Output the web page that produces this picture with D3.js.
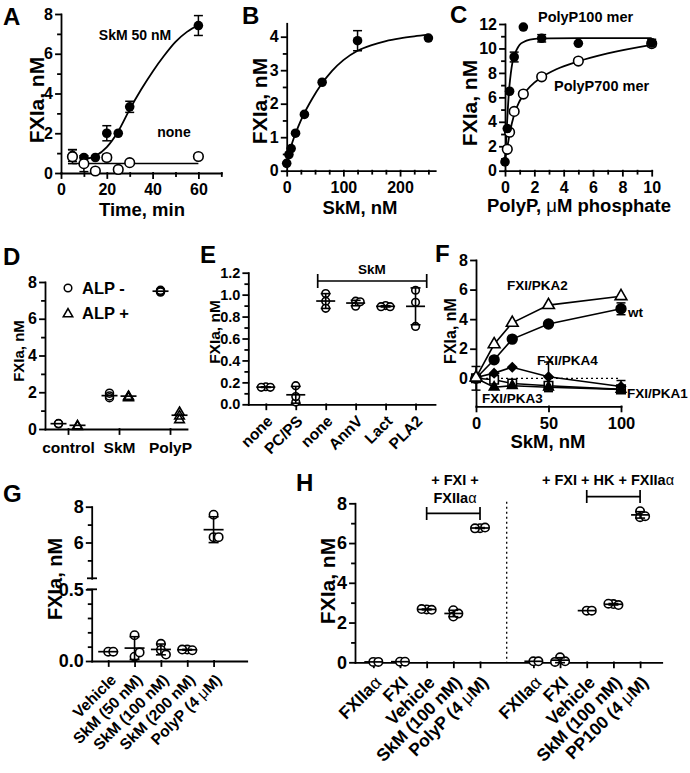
<!DOCTYPE html>
<html><head><meta charset="utf-8">
<script src="https://cdn.jsdelivr.net/npm/d3@7"></script>
<style>
body{margin:0;background:#fff;}
svg text{font-family:"Liberation Sans",Arial,Helvetica,sans-serif;font-weight:bold;fill:#000;}
</style></head><body>
<script>
// ---------------- DATA ----------------
// Panel A
const aTime = [5,10,15,20,25,30,60];
const aSkM = [0.88,0.78,0.78,2.0,2.0,3.33,7.42];
const aSkMErr = [0.3,0,0,0.38,0,0.28,0.5];
const aNone = [0.82,0.47,0.1,0.78,0.18,0.52,0.83];
const aNoneErr = [0.35,0.4,0,0.15,0,0,0];
const aFitTime = [10,15,20,25,30,35,40,45,50,55,60];
const aFitSkM = [0.7,0.85,1.3,2.1,3.2,4.2,5.1,5.9,6.6,7.1,7.45];
const aFitNoneTime = [5,60];
const aFitNone = [0.48,0.48];
// Panel B
const bSkM = [0,3.9,7.8,15.6,31.25,62.5,125,250];
const bFXIa = [0.22,0.48,0.66,1.12,1.68,2.64,3.88,3.96];
const bErr = [0,0,0,0,0,0,0.3,0];
const bFitSkM = [0,5,10,20,30,45,60,80,100,125,150,175,200,225,250];
const bFit = [0.2,0.55,0.85,1.3,1.68,2.15,2.55,2.98,3.3,3.58,3.75,3.87,3.95,4.01,4.06];
// Panel C
const cP100X = [0,0.156,0.3125,0.625,1.25,2.5,5,10];
const cP100 = [0.72,3.45,6.5,9.3,11.75,10.83,10.42,10.45];
const cP100Err = [0,0,0,0.4,0,0.3,0,0.3];
const cP700X = [0.156,0.3125,0.625,1.25,2.5,5,10];
const cP700 = [1.75,3.15,4.85,6.27,7.68,8.97,10.4];
const cFit100X = [0,0.1,0.2,0.3,0.4,0.5,0.6,0.8,1.0,1.3,1.7,2.2,3,5,10];
const cFit100 = [0.7,3.0,5.2,6.9,8.0,8.8,9.3,9.9,10.3,10.55,10.72,10.8,10.83,10.84,10.84];
const cFit700X = [0,0.156,0.3125,0.625,1,1.5,2,2.5,3.5,5,7,10];
const cFit700 = [1.0,1.9,3.0,4.6,5.7,6.6,7.2,7.65,8.3,8.95,9.6,10.3];
// Panel D
const dCats = ['control','SkM','PolyP'];
const dAlpMinus = [[0.3,0.28],[1.95,1.7,1.8],[7.55,7.45,7.5]];
const dAlpPlus = [[0.22,0.18],[1.8,1.75,1.82],[0.95,0.55,0.75]];
// Panel E
const eCats = ['none','PC/PS','none','AnnV','Lact','PLA2'];
const eVals = [[0.16,0.155,0.155],[0.17,0.02,0.07],[1.01,0.94,0.875],[0.94,0.895,0.935],[0.9,0.89,0.89],[1.04,0.93,0.71]];
// Panel F
const fSkM = [0,12.5,25,50,100];
const fWt = [0,1.25,2.65,3.67,4.7];
const fWtErr = [0.8,0,0,0,0.4];
const fPKA2 = [0.05,2.3,3.75,4.95,5.55];
const fPKA4 = [0.05,0.35,0.75,0.1,-0.55];
const fPKA4Err = [0,0,0,1.0,0.4];
const fPKA3 = [0,-0.6,-0.5,-0.6,-0.75];
const fPKA1 = [0,-0.1,-0.35,-0.5,-0.75];
// Panel G
const gCats = ['Vehicle','SkM (50 nM)','SkM (100 nM)','SkM (200 nM)','PolyP (4 μM)'];
const gVals = [[0.065,0.065],[0.18,0.03,0.06],[0.12,0.077,0.045],[0.08,0.075,0.08],[7.55,6.3,6.3]];
// Panel H
const hCatsLeft = ['FXIIaα','FXI','Vehicle','SkM (100 nM)','PolyP (4 μM)'];
const hCatsRight = ['FXIIaα','FXI','Vehicle','SkM (100 nM)','PP100 (4 μM)'];
const hLeft = [[0.02,0.02],[0.03,0.03],[2.66,2.64,2.68],[2.62,2.3,2.45],[6.75,6.78,6.74]];
const hRight = [[0.05,0.05],[0.25,0.05,0.02],[2.6,2.6],[2.93,2.88,2.95],[7.6,7.3,7.35]];

// ---------------- HELPERS ----------------
const FONT='"Liberation Sans", Arial, Helvetica, sans-serif';
const LW=1.8;
const svg=d3.select('body').append('svg').attr('width',690).attr('height',773);

function mkAxis(orient, scale, pos, major, minor, fmt, fs, pad){
  const gen=()=>orient==='left'?d3.axisLeft(scale):d3.axisBottom(scale);
  const g=svg.append('g').attr('transform',orient==='left'?`translate(${pos},0)`:`translate(0,${pos})`);
  g.call(gen().tickValues(major).tickSize(5).tickSizeOuter(0).tickPadding(pad).tickFormat(fmt));
  if(minor&&minor.length){
    const gm=g.append('g').call(gen().tickValues(minor).tickSize(3).tickSizeOuter(0).tickFormat(''));
    gm.select('.domain').remove();
  }
  g.selectAll('path,line').attr('stroke','#000').attr('stroke-width',LW).attr('stroke-linecap','square');
  g.selectAll('text').attr('font-size',fs).attr('font-weight','bold').attr('font-family',FONT).attr('fill','#000');
  return g;
}
function rich(sel,str){
  str.split(/([μα])/).forEach(p=>{ if(!p) return; const t=sel.append('tspan').text(p); if(/[μα]/.test(p)) t.attr('font-weight','normal'); });
  return sel;
}
function txt(x,y,s,fs,anchor){ return rich(svg.append('text').attr('x',x).attr('y',y).attr('font-size',fs).attr('text-anchor',anchor||'start'),s); }
function vtxt(x,y,s,fs){ return rich(svg.append('text').attr('transform',`translate(${x},${y}) rotate(-90)`).attr('font-size',fs).attr('text-anchor','middle'),s); }
function dtxt(x,y,s,fs){ return rich(svg.append('text').attr('transform',`translate(${x},${y}) rotate(-45)`).attr('font-size',fs).attr('text-anchor','end').attr('dy','0.35em'),s); }
function seg(x1,y1,x2,y2,w,dash){ const l=svg.append('line').attr('x1',x1).attr('y1',y1).attr('x2',x2).attr('y2',y2).attr('stroke','#000').attr('stroke-width',w||LW); if(dash) l.attr('stroke-dasharray',dash); return l; }
function errBar(x,yS,v,e,cap){ if(!e) return; seg(x,yS(v-e),x,yS(v+e),1.5); seg(x-cap/2,yS(v+e),x+cap/2,yS(v+e),1.5); seg(x-cap/2,yS(v-e),x+cap/2,yS(v-e),1.5); }
function mark(x,y,type,size,fill){
  svg.append('path').attr('d',d3.symbol(type,size)()).attr('transform',`translate(${x},${y})`)
    .attr('fill',fill).attr('stroke','#000').attr('stroke-width',1.6);
}
function curve(xs,ys,xS,yS){
  svg.append('path').datum(xs.map((x,i)=>[x,ys[i]])).attr('fill','none').attr('stroke','#000').attr('stroke-width',1.8)
    .attr('d',d3.line().x(d=>xS(d[0])).y(d=>yS(d[1])).curve(d3.curveMonotoneX));
}
function polyline(xs,ys,xS,yS){
  svg.append('path').datum(xs.map((x,i)=>[x,ys[i]])).attr('fill','none').attr('stroke','#000').attr('stroke-width',1.6)
    .attr('d',d3.line().x(d=>xS(d[0])).y(d=>yS(d[1])));
}
function dotColumn(xc,yS,vals,r,meanW,capW){
  const placed=[]; const step=r*1.2;
  const offs=[0,step,-step,2*step,-2*step,3*step,-3*step];
  vals.forEach(v=>{ const y=yS(v); let o=offs.find(o=>placed.every(p=>Math.hypot(p.x-o,p.y-y)>=r*1.1)); if(o===undefined)o=0; placed.push({x:o,y}); });
  placed.forEach(p=>svg.append('circle').attr('cx',xc+p.x).attr('cy',p.y).attr('r',r).attr('fill','#fff').attr('stroke','#000').attr('stroke-width',1.6));
  const m=d3.mean(vals), sd=d3.deviation(vals)||0;
  seg(xc-meanW/2,yS(m),xc+meanW/2,yS(m),1.7);
  if(sd>0){ seg(xc,yS(m-sd),xc,yS(m+sd),1.6); seg(xc-capW/2,yS(m+sd),xc+capW/2,yS(m+sd),1.6); seg(xc-capW/2,yS(m-sd),xc+capW/2,yS(m-sd),1.6); }
}
const LET=24;

// ---------------- PANEL A ----------------
{
const xS=d3.scaleLinear().domain([0,70]).range([61,221.3]);
const yS=d3.scaleLinear().domain([0,8]).range([173,14]);
mkAxis('bottom',xS,173,[0,20,40,60],[10,30,50,70],d3.format('d'),16,6);
mkAxis('left',yS,61,[0,2,4,6,8],[1,3,5,7],d3.format('d'),16,3);
curve(aFitTime,aFitSkM,xS,yS);
polyline(aFitNoneTime,aFitNone,xS,yS);
aTime.forEach((t,i)=>{ errBar(xS(t),yS,aSkM[i],aSkMErr[i],9); errBar(xS(t),yS,aNone[i],aNoneErr[i],9); });
aTime.forEach((t,i)=>svg.append('circle').attr('cx',xS(t)).attr('cy',yS(aSkM[i])).attr('r',4.8).attr('fill','#000'));
aTime.forEach((t,i)=>svg.append('circle').attr('cx',xS(t)).attr('cy',yS(aNone[i])).attr('r',4.8).attr('fill','#fff').attr('stroke','#000').attr('stroke-width',1.6));
txt(3,25,'A',LET);
txt(135,40,'SkM 50 nM',14,'middle');
txt(174,137,'none',14,'middle');
txt(142,216,'Time, min',18.5,'middle');
vtxt(44,100,'FXIa, nM',21);
}
// ---------------- PANEL B ----------------
{
const xS=d3.scaleLinear().domain([0,262]).range([286.7,435.2]);
const yS=d3.scaleLinear().domain([0,4.4]).range([170.7,23.3]);
mkAxis('bottom',xS,170.7,[0,100,200],[25,50,75,125,150,175,225,250],d3.format('d'),16,6);
mkAxis('left',yS,286.7,[0,1,2,3,4],[0.5,1.5,2.5,3.5],d3.format('d'),16,3);
curve(bFitSkM,bFit,xS,yS);
bSkM.forEach((s,i)=>errBar(xS(s),yS,bFXIa[i],bErr[i],9));
bSkM.forEach((s,i)=>svg.append('circle').attr('cx',xS(s)).attr('cy',yS(bFXIa[i])).attr('r',4.8).attr('fill','#000'));
txt(242,24,'B',LET);
txt(360,214,'SkM, nM',18.5,'middle');
vtxt(267,101,'FXIa, nM',21);
}
// ---------------- PANEL C ----------------
{
const xS=d3.scaleLinear().domain([0,10]).range([505,651.7]);
const yS=d3.scaleLinear().domain([0,12]).range([170.7,24]);
mkAxis('bottom',xS,170.7,[0,2,4,6,8,10],[1,3,5,7,9],d3.format('d'),16,6);
mkAxis('left',yS,505,[0,2,4,6,8,10,12],[1,3,5,7,9,11],d3.format('d'),16,3);
curve(cFit700X,cFit700,xS,yS);
curve(cFit100X,cFit100,xS,yS);
cP100X.forEach((x,i)=>errBar(xS(x),yS,cP100[i],cP100Err[i],9));
cP700X.forEach((x,i)=>svg.append('circle').attr('cx',xS(x)).attr('cy',yS(cP700[i])).attr('r',4.8).attr('fill','#fff').attr('stroke','#000').attr('stroke-width',1.6));
cP100X.forEach((x,i)=>svg.append('circle').attr('cx',xS(x)).attr('cy',yS(cP100[i])).attr('r',4.8).attr('fill','#000'));
txt(450,23,'C',LET);
txt(538,22,'PolyP100 mer',14.5);
txt(554,91,'PolyP700 mer',14.5);
txt(579,212,'PolyP, μM phosphate',18.5,'middle');
vtxt(477,103,'FXIa, nM',21);
}
// ---------------- PANEL D ----------------
{
const xS=d3.scaleLinear().domain([-0.451,2.333]).range([45,187]);
const yS=d3.scaleLinear().domain([0,8]).range([429,282]);
mkAxis('bottom',xS,429,[0,1,2],null,i=>dCats[i],15.5,8);
mkAxis('left',yS,45,[0,2,4,6,8],[1,3,5,7],d3.format('d'),16,3);
dCats.forEach((c,i)=>{
  const xm=xS(i)-9.5, xp=xS(i)+9.5;
  dAlpMinus[i].forEach(v=>svg.append('circle').attr('cx',xm).attr('cy',yS(v)).attr('r',4).attr('fill','none').attr('stroke','#000').attr('stroke-width',1.5));
  dAlpPlus[i].forEach(v=>mark(xp,yS(v)+1,d3.symbolTriangle,40,'none'));
  const m1=d3.mean(dAlpMinus[i]), m2=d3.mean(dAlpPlus[i]);
  seg(xm-8,yS(m1),xm+8,yS(m1),1.7); seg(xp-8,yS(m2),xp+8,yS(m2),1.7);
});
svg.append('circle').attr('cx',68).attr('cy',288).attr('r',3.8).attr('fill','none').attr('stroke','#000').attr('stroke-width',1.5);
txt(82,294,'ALP -',16.5);
mark(68,314,d3.symbolTriangle,38,'none');
txt(82,319,'ALP +',16.5);
txt(3,265,'D',LET);
vtxt(24,351,'FXIa, nM',15);
}
// ---------------- PANEL E ----------------
{
const xS=d3.scaleLinear().domain([-0.585,5.65]).range([248.3,435]);
const yS=d3.scaleLinear().domain([0,1.2]).range([404.3,272.7]);
mkAxis('bottom',xS,404.3,d3.range(eCats.length),null,'',15,6);
mkAxis('left',yS,248.3,[0,0.2,0.4,0.6,0.8,1.0,1.2],[0.1,0.3,0.5,0.7,0.9,1.1],d3.format('.1f'),14.5,3);
eCats.forEach((c,i)=>{ dotColumn(xS(i),yS,eVals[i],3.8,19,10); dtxt(xS(i)+4,404.3+14,c,15.5); });
seg(317.7,281,426.7,281,1.7); seg(317.7,274,317.7,288,1.7); seg(426.7,274,426.7,288,1.7);
txt(372,274,'SkM',13.5,'middle');
txt(200,263,'E',LET);
vtxt(220,332,'FXIa, nM',15.5);
}
// ---------------- PANEL F ----------------
{
const xS=d3.scaleLinear().domain([0,100]).range([476,621]);
const yS=d3.scaleLinear().domain([-1.9,8]).range([406.4,260]);
mkAxis('bottom',xS,406.4,[0,50,100],null,d3.format('d'),16.5,6);
mkAxis('left',yS,476,[0,2,4,6,8],null,d3.format('d'),16,3);
seg(xS(0),yS(0),xS(100),yS(0),1.3,'2,3');
const series=[
  {v:fPKA1,e:null,t:d3.symbolSquare,s:72,f:'#fff'},
  {v:fPKA3,e:null,t:d3.symbolTriangle,s:40,f:'#000'},
  {v:fPKA4,e:fPKA4Err,t:d3.symbolDiamond2,s:50,f:'#000'},
  {v:fWt,e:fWtErr,t:d3.symbolCircle,s:75,f:'#000'},
  {v:fPKA2,e:null,t:d3.symbolTriangle,s:60,f:'#fff'}
];
series.forEach(sr=>polyline(fSkM,sr.v,xS,yS));
series.forEach(sr=>{ if(sr.e) fSkM.forEach((x,i)=>errBar(xS(x),yS,sr.v[i],sr.e[i],9)); });
series.forEach(sr=>fSkM.forEach((x,i)=>mark(xS(x),yS(sr.v[i]),sr.t,sr.s,sr.f)));
txt(507,290,'FXI/PKA2',13.5);
txt(628,317,'wt',13.5);
txt(537,365,'FXI/PKA4',13.5);
txt(482,403,'FXI/PKA3',13.5);
txt(627,398,'FXI/PKA1',13.5);
txt(435,262,'F',LET);
txt(548,448,'SkM, nM',18.5,'middle');
vtxt(456,331,'FXIa, nM',16);
}
// ---------------- PANEL G ----------------
{
const xS=d3.scaleLinear().domain([-0.627,5.257]).range([91.7,246.7]);
const yU=d3.scaleLinear().domain([4,8]).range([578.3,506.7]);
const yL=d3.scaleLinear().domain([0,0.5]).range([661,589.3]);
const yS=v=>v>1?yU(v):yL(v);
mkAxis('bottom',xS,661,d3.range(gCats.length),null,'',14,6);
mkAxis('left',yU,91.7,[6,8],[5,7],d3.format('d'),18,3);
mkAxis('left',yL,91.7,[0,0.5],[0.1,0.2,0.3,0.4],d3.format('.1f'),18,3);
seg(87,578.3,97,578.3,1.8); seg(87,589.3,97,589.3,1.8);
gCats.forEach((c,i)=>{ dotColumn(xS(i),yS,gVals[i],4.2,20,10); dtxt(xS(i)+5,661+16,c,15.5); });
txt(3,502,'G',LET);
vtxt(62,579,'FXIa, nM',20);
}
// ---------------- PANEL H ----------------
{
const xS=d3.scaleLinear().domain([-0.686,10.81]).range([355,661.7]);
const yS=d3.scaleLinear().domain([0,8]).range([662.3,503.3]);
const idx=[0,1,2,3,4,6,7,8,9,10];
mkAxis('bottom',xS,662.3,idx,null,'',15,6);
mkAxis('left',yS,355,[0,2,4,6,8],[1,3,5,7],d3.format('d'),18,3);
hCatsLeft.forEach((c,i)=>{ dotColumn(xS(i),yS,hLeft[i],4.2,18,10); dtxt(xS(i)+5,662.3+17,c,17.5); });
hCatsRight.forEach((c,i)=>{ dotColumn(xS(i+6),yS,hRight[i],4.2,18,10); dtxt(xS(i+6)+5,662.3+17,c,17.5); });
seg(xS(5),501.7,xS(5),662.3,1.3,'2,3');
seg(xS(2),513.3,xS(4),513.3,1.7); seg(xS(2),507,xS(2),520,1.7); seg(xS(4),507,xS(4),520,1.7);
seg(xS(8),496.7,xS(10),496.7,1.7); seg(xS(8),490,xS(8),503,1.7); seg(xS(10),490,xS(10),503,1.7);
txt(455,485,'+ FXI +',14.5,'middle');
txt(455,503,'FXIIaα',14.5,'middle');
txt(608,485,'+ FXI + HK + FXIIaα',14.5,'middle');
txt(296,491,'H',LET);
vtxt(335,581,'FXIa, nM',21);
}
</script></body></html>
